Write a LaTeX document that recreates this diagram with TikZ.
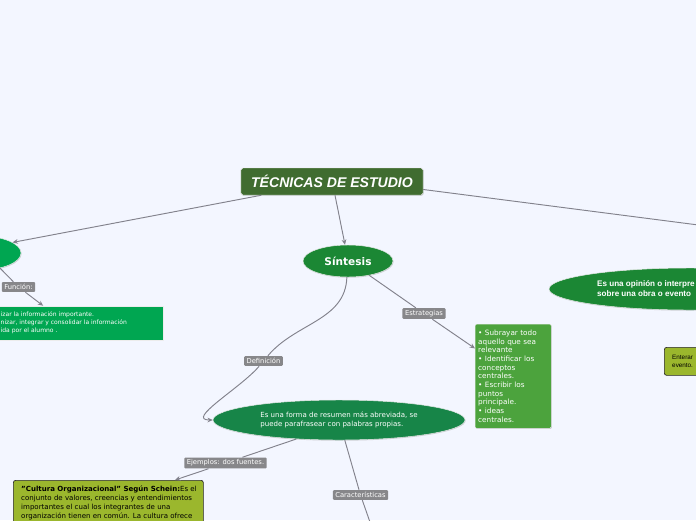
\documentclass[tikz,border=0pt]{standalone}
\usepackage{fontspec}
\setmainfont{DejaVu Sans}
\newfontfamily\titlefont{Liberation Sans}
\newfontfamily\arialfont{Liberation Sans}
\usetikzlibrary{arrows.meta, positioning, calc, shapes.geometric, shadows}

\definecolor{bgblue}{RGB}{243,246,255}
\definecolor{rootgreen}{RGB}{64,108,48}
\definecolor{brightgreen}{RGB}{0,166,81}
\definecolor{darkgreen}{RGB}{27,135,52}
\definecolor{defgreen}{RGB}{23,133,72}
\definecolor{listgreen}{RGB}{76,163,61}
\definecolor{olive}{RGB}{155,183,45}
\definecolor{labgray}{RGB}{135,135,138}
\definecolor{linegray}{RGB}{130,130,140}

\begin{document}
\begin{tikzpicture}[
    x=0.03cm, y=-0.03cm,
    every node/.style={inner sep=0pt},
    softshadow/.style={drop shadow={shadow xshift=0.5pt, shadow yshift=-0.6pt, opacity=0.35, fill=gray}},
    rootbox/.style={fill=rootgreen, draw=white!80!gray, line width=0.4pt, rounded corners=1.5pt,
        minimum width=5.46cm, minimum height=0.81cm, text=white,
        font=\titlefont\bfseries\itshape\fontsize{12}{14}\selectfont, softshadow},
    topic/.style={ellipse, fill=darkgreen, draw=white!85!gray, line width=0.4pt, text=white, softshadow},
    fillbox/.style={fill=brightgreen, draw=white!85!gray, line width=0.4pt, softshadow},
    listbox/.style={fill=listgreen, draw=white!85!gray, line width=0.4pt, rounded corners=1pt,
        text=white, align=left, font=\fontsize{6.2}{7.4}\selectfont, softshadow},
    olivebox/.style={fill=olive, draw=black!85, line width=0.6pt, rounded corners=2pt},
    small/.style={font=\fontsize{6}{7.5}\selectfont, align=left},
    lab/.style={fill=labgray, rounded corners=1pt, text=white, inner xsep=2.2pt, inner ysep=1.9pt,
        font=\fontsize{5.75}{6}\selectfont},
    line/.style={draw=linegray, line width=0.8pt},
    arrow/.style={line, -{Stealth[length=4.5pt, width=4pt]}},
]

\useasboundingbox (0,0) rectangle (696,520);
\fill[bgblue] (0,0) rectangle (696,520);
\clip (0,0) rectangle (696,520);

% ===== ROOT =====
\node[rootbox] (root) at (332,181.5) {TÉCNICAS DE ESTUDIO};

% ===== LEFT BRANCH (cut off) =====
\node[topic, fill=brightgreen, minimum width=2.46cm, minimum height=1.02cm] (left) at (-20,253) {};
\node[fillbox, minimum width=6.69cm, minimum height=1.02cm] (funcbox) at (51.5,323) {};
\node[small, text=white, anchor=north west, font=\fontsize{5.15}{7.1}\selectfont] (funcbox-txt) at (0.5,311)
    {izar la información importante.\\nizar, integrar y consolidar la información\\ida por el alumno .};
\node[lab] (func) at (18.5,287) {Función:};

% ===== SINTESIS =====
\node[topic, minimum width=2.7cm, minimum height=0.96cm,
      font=\bfseries\fontsize{9}{10}\selectfont] (sintesis) at (348,261) {Síntesis};

\node[lab] (estr) at (424,313.5) {Estrategias};
\node[listbox, anchor=north west, minimum width=2.25cm, minimum height=3.12cm,
      text width=2.1cm, inner xsep=0.09cm] (bullets) at (475,324)
    {• Subrayar todo\\aquello que sea\\relevante\\• Identificar los\\conceptos\\centrales.\\• Escribir los\\puntos\\principale.\\• ideas\\centrales.};

\node[lab] (defl) at (263.5,361) {Definición};
\node[topic, fill=defgreen, minimum width=7.56cm, minimum height=1.2cm, small] (def) at (339,420)
    {Es una forma de resumen más abreviada, se\\puede parafrasear con palabras propias.};

\node[lab] (ejem) at (225.5,463) {Ejemplos: dos fuentes.};
\node[olivebox, anchor=north west, minimum width=5.7cm, minimum height=2cm] (schein) at (13,480) {};
\node[small, anchor=north west, text=black, font=\fontsize{6}{7.6}\selectfont] (schein-txt) at (21,486)
    {\textbf{"Cultura Organizacional" Según Schein:}Es el\\conjunto de valores, creencias y entendimientos\\importantes el cual los integrantes de una\\organización tienen en común. La cultura ofrece};

\node[lab] (caract) at (360.5,495) {Características};
\coordinate (caract-end) at (378,545);

% ===== RIGHT BRANCH (cut off) =====
\coordinate (offright) at (900,251);
\node[topic, minimum width=8.46cm, minimum height=1.26cm] (opinion) at (690,289) {};
\node[anchor=west, text=white, align=left, font=\arialfont\bfseries\fontsize{6.9}{8.4}\selectfont] (opinion-txt) at (597,288.5)
    {Es una opinión o interpre\\sobre una obra o evento};
\node[olivebox, anchor=north west, minimum width=2.4cm, minimum height=0.84cm] (enterar) at (664,347) {};
\node[anchor=west, align=left, font=\arialfont\fontsize{5.4}{6.8}\selectfont] (enterar-txt) at (672,361)
    {Enterar\\evento.};

% ===== CONNECTORS =====
\draw[arrow] (root.191) -- (left.18);
\draw[arrow] ([xshift=0.09cm]root.south) -- ([xshift=-0.09cm]sintesis.north);
\draw[line] (root.-5) -- (offright);

\draw[line] (left.-37) -- (func);
\draw[arrow] (func) -- ([xshift=-0.25cm]funcbox.north);

\draw[line] (sintesis.-34) -- (estr);
\draw[arrow] (estr) -- (bullets.144);

\draw[line] (sintesis.-94) to[out=-92, in=50] (defl);
\draw[arrow] (defl) to[out=-130, in=180] (def.west);

\draw[line] (def.-156) -- (ejem);
\draw[arrow] (ejem) -- ([xshift=2cm]schein.north);

\draw[line] (def.-74) -- (caract);
\draw[line] (caract) -- (caract-end);

\end{tikzpicture}
\end{document}
